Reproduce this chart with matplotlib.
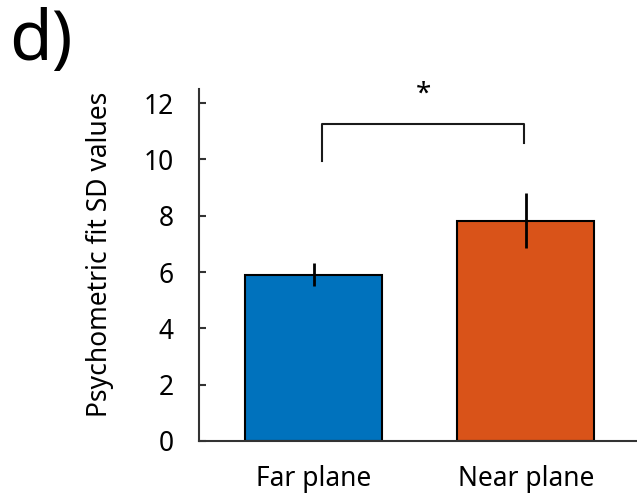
import matplotlib
matplotlib.use("Agg")
import matplotlib.pyplot as plt

# data
conditions = ["Far plane", "Near plane"]
sd_means = [5.90, 7.82]
sd_errors = [0.41, 0.98]
bar_colors = ["#0072BD", "#D95319"]

# significance bracket (x in bar units, y in data units)
bracket_x = [0.04, 0.99]
bracket_y = 11.26
bracket_left_end = 9.95
bracket_right_end = 10.6

plt.rcParams["font.family"] = ["Noto Sans", "DejaVu Sans"]

fig = plt.figure(figsize=(6.37, 4.95), dpi=100)
ax = fig.add_axes([0.3124, 0.1091, 0.6876, 0.7111])

pos = list(range(len(conditions)))
ax.bar(pos, sd_means, width=0.646, color=bar_colors,
       edgecolor="black", linewidth=1.5, zorder=2)
ax.errorbar(pos, sd_means, yerr=sd_errors, fmt="none",
            ecolor="black", elinewidth=2, capsize=0, zorder=3)

ax.plot([bracket_x[0], bracket_x[0], bracket_x[1], bracket_x[1]],
        [bracket_left_end, bracket_y, bracket_y, bracket_right_end],
        color="#1a1a1a", linewidth=1.5, clip_on=False)
ax.text(sum(bracket_x) / 2, bracket_y + 0.55, "*", ha="center",
        va="bottom", fontsize=20)

ax.set_xlim(-0.542, 1.524)
ax.set_ylim(0, 12.5)
ax.set_yticks([0, 2, 4, 6, 8, 10, 12])
ax.set_xticks(pos)
ax.set_xticklabels(conditions)
ax.set_ylabel("Psychometric fit SD values", fontsize=19)
ax.yaxis.set_label_coords(-0.195, 0.53)

for side in ["top", "right"]:
    ax.spines[side].set_visible(False)
for side in ["left", "bottom"]:
    ax.spines[side].set_color("#333333")
    ax.spines[side].set_linewidth(1.5)

ax.tick_params(axis="y", direction="in", length=5, width=1.5,
               color="#333333", labelsize=19, pad=18)
ax.tick_params(axis="x", length=0, labelsize=19, pad=17)

fig.text(0.015, 0.985, "d)", fontsize=50, ha="left", va="top")

fig.savefig("out.png", dpi=100)
